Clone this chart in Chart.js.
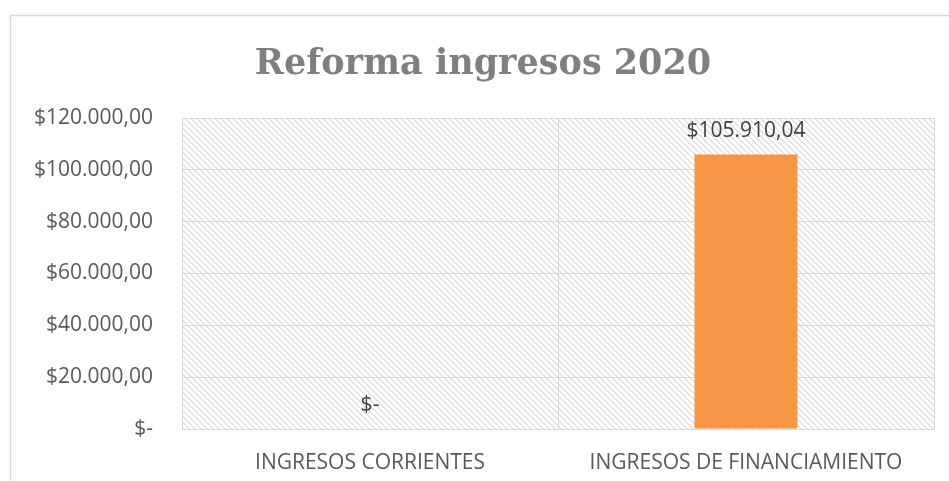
<!DOCTYPE html>
<html>
<head>
<meta charset="utf-8">
<script src="https://cdn.jsdelivr.net/npm/chart.js@4"></script>
<style>
  html, body { margin: 0; padding: 0; background: #fff; }
  #wrap { width: 949px; height: 481px; }
</style>
</head>
<body>
<div id="wrap"><canvas id="myChart" width="949" height="481"></canvas></div>
<script>
// datos del grafico
const categorias = ["INGRESOS CORRIENTES", "INGRESOS DE FINANCIAMIENTO"];
const valores = [0, 105910.04];
const titulo = "Reforma ingresos 2020";

// formato $120.000,00 / $-
function formatoPesos(v) {
  if (v === 0) return "$-";
  const partes = v.toFixed(2).split(".");
  const entero = partes[0].replace(/\B(?=(\d{3})+(?!\d))/g, ".");
  return "$" + entero + "," + partes[1];
}

// patron rayado del area de trazado
function crearPatron(ctx) {
  const n = 6;
  const c = document.createElement("canvas");
  c.width = n;
  c.height = n;
  const p = c.getContext("2d");
  p.fillStyle = "#ffffff";
  p.fillRect(0, 0, n, n);
  for (let y = 0; y < n; y++) {
    for (let x = 0; x < n; x++) {
      const d = (x - y + 2 * n) % n;
      if (d === 0) { p.fillStyle = "#dadada"; p.fillRect(x, y, 1, 1); }
      else if (d === 1) { p.fillStyle = "#ededed"; p.fillRect(x, y, 1, 1); }
    }
  }
  return ctx.createPattern(c, "repeat");
}

const fondo = {
  id: "fondo",
  beforeDraw(chart) {
    const { ctx, chartArea: { left, top, right, bottom } } = chart;
    ctx.save();
    ctx.fillStyle = "#ffffff";
    ctx.fillRect(0, 0, chart.width, chart.height);
    ctx.strokeStyle = "#d9d9d9";
    ctx.lineWidth = 1.5;
    ctx.strokeRect(10.5, 15.5, 1000, 600);
    ctx.fillStyle = crearPatron(ctx);
    ctx.fillRect(left, top, right - left, bottom - top);
    ctx.restore();
  },
  afterDatasetsDraw(chart) {
    const { ctx, chartArea: { left, top, right, bottom } } = chart;
    ctx.save();
    ctx.strokeStyle = "#d9d9d9";
    ctx.lineWidth = 1;
    ctx.strokeRect(left + 0.5, top + 0.5, right - left, bottom - top);
    ctx.restore();
  }
};

const etiquetas = {
  id: "etiquetas",
  afterDatasetsDraw(chart) {
    const { ctx } = chart;
    const meta = chart.getDatasetMeta(0);
    ctx.save();
    ctx.font = "21px 'Open Sans'";
    ctx.fillStyle = "#404040";
    ctx.textAlign = "center";
    ctx.textBaseline = "middle";
    meta.data.forEach((el, i) => {
      ctx.fillText(formatoPesos(valores[i]), el.x, el.y - 24);
    });
    ctx.restore();
  }
};

new Chart(document.getElementById("myChart"), {
  type: "bar",
  data: {
    labels: categorias,
    datasets: [{
      data: valores,
      backgroundColor: "#f79646",
      borderWidth: 0,
      categoryPercentage: 1,
      barPercentage: 0.274
    }]
  },
  options: {
    responsive: false,
    animation: false,
    layout: { padding: { left: 32, right: 15, top: 0, bottom: 0 } },
    plugins: {
      legend: { display: false },
      tooltip: { enabled: false },
      title: {
        display: true,
        text: titulo,
        color: "#7f7f7f",
        font: { family: "'DejaVu Serif'", size: 35, weight: "bold", lineHeight: 1.2 },
        padding: { top: 44, bottom: 32 }
      }
    },
    scales: {
      x: {
        grid: { color: "#d9d9d9", offset: true, drawTicks: false },
        border: { color: "#d9d9d9" },
        ticks: {
          color: "#595959",
          font: { family: "'Open Sans'", size: 21 },
          padding: 21,
          maxRotation: 0
        },
        afterFit(s) { s.height = 52; }
      },
      y: {
        min: 0,
        max: 120000,
        grid: { color: "#d9d9d9", drawTicks: false },
        border: { color: "#d9d9d9" },
        ticks: {
          stepSize: 20000,
          color: "#595959",
          font: { family: "'Open Sans'", size: 21 },
          padding: 29,
          callback: (v) => formatoPesos(v)
        },
        afterFit(s) { s.width = 150; }
      }
    }
  },
  plugins: [fondo, etiquetas]
});
</script>
</body>
</html>
